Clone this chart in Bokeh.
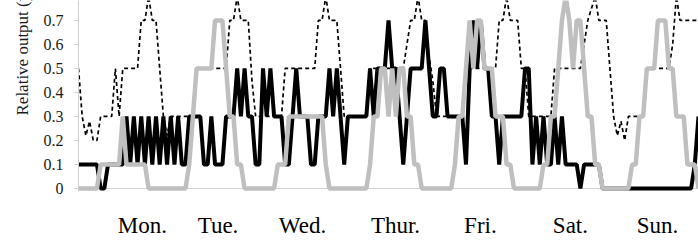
from bokeh.plotting import figure
from bokeh.models import ColumnDataSource, Range1d, FixedTicker, Title, Span
from bokeh.embed import file_html
from bokeh.resources import INLINE

# ---------------- data ----------------
hours = list(range(169))

# black thick line (hourly)
black = [
    0.1, 0.1, 0.1, 0.1, 0.1, 0.1, 0, 0, 0.1, 0.1, 0.1, 0.1, 0.1, 0.3, 0.1, 0.3, 0.1, 0.3, 0.1, 0.3, 0.1, 0.3, 0.1, 0.3,
    0.1, 0.3, 0.1, 0.3, 0.1, 0.1, 0.3, 0.3, 0.3, 0.3, 0.1, 0.1, 0.3, 0.1, 0.1, 0.1, 0.3, 0.3, 0.3, 0.5, 0.3, 0.5, 0.3, 0.3,
    0.1, 0.1, 0.5, 0.3, 0.5, 0.3, 0.3, 0.3, 0.1, 0.1, 0.3, 0.5, 0.3, 0.3, 0.3, 0.1, 0.1, 0.3, 0.3, 0.3, 0.5, 0.3, 0.5, 0.3,
    0.1, 0.3, 0.3, 0.3, 0.3, 0.3, 0.3, 0.5, 0.3, 0.5, 0.5, 0.5, 0.7, 0.5, 0.5, 0.3, 0.1, 0.3, 0.5, 0.5, 0.5, 0.5, 0.7, 0.5,
    0.3, 0.3, 0.5, 0.5, 0.3, 0.3, 0.3, 0.3, 0.3, 0.1, 0.5, 0.7, 0.5, 0.7, 0.5, 0.5, 0.3, 0.3, 0.1, 0.3, 0.3, 0.3, 0.3, 0.3,
    0.3, 0.5, 0.5, 0.1, 0.3, 0.1, 0.3, 0.1, 0.1, 0.3, 0.1, 0.3, 0.1, 0.1, 0.1, 0.1, 0, 0.1, 0.1, 0.1, 0.1, 0.1, 0, 0,
    0, 0, 0, 0, 0, 0, 0, 0, 0, 0, 0, 0, 0, 0, 0, 0, 0, 0, 0, 0, 0, 0, 0, 0.1, 0.3,
]

# grey thick line (hourly)
grey = [
    0, 0, 0, 0, 0, 0, 0.1, 0.1, 0.1, 0.1, 0.1, 0.1, 0.3, 0.1, 0.1, 0.1, 0.1, 0.1, 0.1, 0, 0, 0, 0, 0,
    0, 0, 0, 0, 0, 0, 0.1, 0.3, 0.5, 0.5, 0.5, 0.5, 0.5, 0.7, 0.7, 0.7, 0.5, 0.3, 0.3, 0.1, 0.1, 0, 0, 0,
    0, 0, 0, 0, 0, 0, 0.1, 0.1, 0.1, 0.3, 0.3, 0.3, 0.3, 0.3, 0.3, 0.3, 0.3, 0.3, 0.3, 0.1, 0, 0, 0, 0,
    0, 0, 0, 0, 0, 0, 0, 0.1, 0.3, 0.3, 0.5, 0.5, 0.3, 0.5, 0.3, 0.5, 0.5, 0.3, 0.3, 0.1, 0.1, 0, 0, 0,
    0, 0, 0, 0, 0, 0, 0.1, 0.3, 0.3, 0.5, 0.7, 0.5, 0.7, 0.7, 0.5, 0.5, 0.5, 0.3, 0.3, 0.3, 0.1, 0.1, 0, 0,
    0, 0, 0, 0, 0, 0, 0.1, 0.1, 0.3, 0.3, 0.5, 0.7, 0.8, 0.7, 0.5, 0.7, 0.7, 0.5, 0.3, 0.3, 0.1, 0.1, 0, 0,
    0, 0, 0, 0, 0, 0, 0.1, 0.1, 0.3, 0.3, 0.5, 0.5, 0.5, 0.7, 0.7, 0.7, 0.5, 0.5, 0.3, 0.3, 0.3, 0.1, 0.1, 0.1, 0,
]

# dashed thin line (hourly)
dashed = [
    0.5, 0.3, 0.22, 0.28, 0.2, 0.2, 0.3, 0.3, 0.3, 0.3, 0.5, 0.3, 0.5, 0.5, 0.5, 0.5, 0.5, 0.7, 0.7, 0.8, 0.7, 0.7, 0.5, 0.3,
    0.22, 0.3, 0.3, 0.3, 0.3, 0.3, 0.3, 0.3, 0.5, 0.5, 0.5, 0.5, 0.5, 0.5, 0.5, 0.5, 0.5, 0.7, 0.7, 0.8, 0.7, 0.7, 0.7, 0.45,
    0.3, 0.3, 0.3, 0.3, 0.3, 0.3, 0.3, 0.3, 0.5, 0.5, 0.5, 0.5, 0.5, 0.5, 0.5, 0.5, 0.5, 0.7, 0.7, 0.8, 0.7, 0.7, 0.7, 0.5,
    0.3, 0.3, 0.3, 0.3, 0.3, 0.3, 0.3, 0.5, 0.5, 0.5, 0.5, 0.5, 0.5, 0.5, 0.5, 0.5, 0.5, 0.6, 0.7, 0.7, 0.8, 0.7, 0.7, 0.55,
    0.45, 0.3, 0.3, 0.3, 0.3, 0.3, 0.3, 0.3, 0.3, 0.5, 0.5, 0.5, 0.5, 0.5, 0.5, 0.5, 0.5, 0.5, 0.7, 0.7, 0.8, 0.7, 0.7, 0.7,
    0.5, 0.5, 0.3, 0.3, 0.3, 0.3, 0.3, 0.3, 0.3, 0.5, 0.5, 0.5, 0.5, 0.5, 0.5, 0.5, 0.5, 0.6, 0.7, 0.75, 0.8, 0.7, 0.7, 0.7,
    0.5, 0.3, 0.22, 0.28, 0.2, 0.3, 0.3, 0.3, 0.3, 0.3, 0.5, 0.5, 0.5, 0.5, 0.5, 0.5, 0.5, 0.6, 0.8, 0.7, 0.7, 0.7, 0.7, 0.7, 0.7,
]

day_labels = ["Mon.", "Tue.", "Wed.", "Thur.", "Fri.", "Sat.", "Sun."]
day_label_pos = [17.3, 37.8, 60.7, 85.9, 108.9, 133.3, 156.9]

y_ticks = [0, 0.1, 0.2, 0.3, 0.4, 0.5, 0.6, 0.7]
y_tick_labels = ["0", "0.1", "0.2", "0.3", "0.4", "0.5", "0.6", "0.7"]

y_title = "Relative output (p.u.)"

# ---------------- figure ----------------
src = ColumnDataSource(dict(h=hours, black=black, grey=grey, dashed=dashed))

p = figure(width=698, height=243, output_backend="svg", toolbar_location=None,
           x_range=Range1d(0, 168), y_range=Range1d(-0.0125, 0.783),
           min_border_left=78, min_border_right=0, min_border_top=0, min_border_bottom=52)
p.outline_line_color = None
p.xgrid.visible = False
p.ygrid.visible = False
p.background_fill_color = "white"

p.line("h", "dashed", source=src, line_color="black", line_width=1.7, line_dash="4 3")
p.line("h", "black", source=src, line_color="black", line_width=4)
p.line("h", "grey", source=src, line_color="#bfbfbf", line_width=4.5)

p.add_layout(Span(location=0, dimension="width", line_color="#d4d4d4", line_width=1, level="underlay"))

# x axis: day names only
xa = p.xaxis[0]
xa.ticker = FixedTicker(ticks=day_label_pos)
xa.major_label_overrides = {k: v for k, v in zip(day_label_pos, day_labels)}
xa.axis_line_color = None
xa.major_tick_line_color = None
xa.minor_tick_line_color = None
xa.major_tick_out = 0
xa.major_tick_in = 0
xa.major_label_standoff = 21
xa.major_label_text_font = "Liberation Serif"
xa.major_label_text_font_size = "23px"
xa.major_label_text_color = "black"

# y axis
ya = p.yaxis[0]
ya.ticker = FixedTicker(ticks=y_ticks)
ya.major_label_overrides = {k: v for k, v in zip(y_ticks, y_tick_labels)}
ya.axis_line_color = "#cfcfcf"
ya.major_tick_line_color = "#cfcfcf"
ya.minor_tick_line_color = None
ya.major_tick_out = 4
ya.major_tick_in = 0
ya.major_label_standoff = 11
ya.major_label_text_font = "Liberation Serif"
ya.major_label_text_font_size = "16px"
ya.major_label_text_color = "#1a1a1a"

p.add_layout(Title(text=y_title, align="left", offset=76, standoff=17,
                   text_font="Liberation Serif", text_font_size="17px",
                   text_font_style="normal", text_color="#1a1a1a"), "left")

open("out.html", "w").write(file_html(p, INLINE))
